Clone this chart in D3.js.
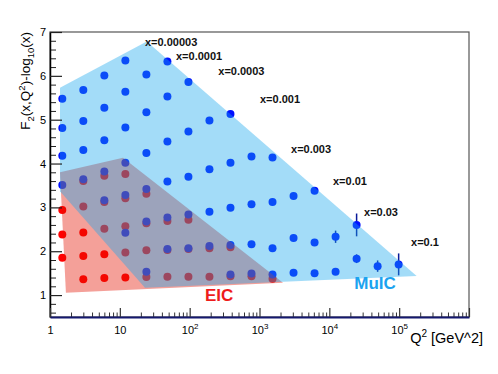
<!DOCTYPE html>
<html>
<head>
<meta charset="utf-8">
<script src="https://cdn.jsdelivr.net/npm/d3@7"></script>
<style>
  body { margin: 0; background: #fff; }
  svg { display: block; font-family: "Liberation Sans", Arial, Helvetica, sans-serif; }
</style>
</head>
<body>
<svg id="chart" width="498" height="374"></svg>
<script>
// MuIC pseudo-data, one array per x bin: [Q2, F2 - log10(x), error]
var muicX00003 = [[1.5,5.48,0],[3,5.68,0],[6,6.01,0],[12,6.35,0]];
var muicX0001  = [[1.5,4.81,0],[3,4.97,0],[6,5.27,0],[12,5.64,0],[24,6.03,0],[48,6.33,0]];
var muicX0003  = [[1.5,4.18,0],[3,4.31,0],[6,4.53,0],[12,4.82,0],[24,5.17,0],[48,5.53,0],[96,5.86,0]];
var muicX001   = [[1.5,3.51,0],[3,3.64,0],[6,3.82,0],[12,4.02,0],[24,4.24,0],[48,4.50,0],[96,4.73,0],[192,4.98,0],[384,5.13,0]];
var muicX003   = [[6,3.16,0],[12,3.28,0],[24,3.42,0],[48,3.59,0],[96,3.70,0],[192,3.87,0],[384,4.02,0],[768,4.16,0],[1536,4.14,0]];
var muicX01    = [[12,2.42,0],[24,2.68,0],[48,2.77,0],[96,2.84,0],[192,2.90,0],[384,2.99,0],[768,3.07,0],[1536,3.12,0],[3072,3.26,0],[6144,3.38,0]];
var muicX03    = [[48,2.05,0],[96,2.07,0],[192,2.12,0],[384,2.14,0],[768,2.16,0],[1536,2.07,0],[3072,2.30,0],[6144,2.20,0],[12288,2.33,0.14],[24576,2.60,0.26]];
var muicX1     = [[24,1.53,0],[384,1.47,0],[768,1.49,0],[1536,1.47,0],[3072,1.51,0],[6144,1.50,0],[12288,1.53,0],[24576,1.83,0.10],[49152,1.66,0.13],[98304,1.70,0.25]];

// EIC pseudo-data
var eicX001 = [[3,3.60],[6,3.72],[12,3.76]];
var eicX003 = [[1.5,2.94],[3,3.02],[6,3.12],[12,3.21],[24,3.31]];
var eicX01  = [[1.5,2.38],[3,2.43],[6,2.51],[12,2.57],[24,2.64],[48,2.69],[96,2.72]];
var eicX03  = [[1.5,1.85],[3,1.89],[6,1.93],[12,1.97],[24,2.02],[48,2.03],[96,2.05],[192,2.07],[384,2.09]];
var eicX1   = [[3,1.36],[6,1.39],[12,1.40],[24,1.41],[48,1.42],[96,1.42],[192,1.42],[384,1.43],[768,1.43],[1536,1.37]];

// kinematic coverage regions [Q2, y]
var eicRegion  = [[1.39,3.80],[11.1,4.13],[2172,1.283],[1.69,1.055]];
var muicRegion = [[1.39,5.73],[24.3,6.786],[178000,1.433],[22.9,1.169],[1.39,3.37]];

// series labels and where they sit (data coords)
var xLabels  = ["x=0.00003","x=0.0001","x=0.0003","x=0.001","x=0.003","x=0.01","x=0.03","x=0.1"];
var xLabelQ2 = [22.9, 63.7, 257, 1016, 2827, 11290, 31400, 147900];
var xLabelY  = [6.69, 6.353, 6.016, 5.385, 4.25, 3.506, 2.793, 2.125];

var xTicks = [1, 10, 100, 1000, 10000, 100000, 1000000];
var yTicks = [1, 2, 3, 4, 5, 6, 7];

var margin = {top: 32, right: 29, bottom: 57, left: 50},
    width = 498 - margin.left - margin.right,
    height = 374 - margin.top - margin.bottom;

var svg = d3.select("#chart");
var g = svg.append("g").attr("transform", "translate(" + margin.left + "," + margin.top + ")");

var x = d3.scaleLog().domain([1, 1e6]).range([0, width]);
var y = d3.scaleLinear().domain([0.5, 7]).range([height, 0]);

var muicAll = [muicX00003, muicX0001, muicX0003, muicX001, muicX003, muicX01, muicX03, muicX1];
var eicAll = [eicX001, eicX003, eicX01, eicX03, eicX1];

// points go first, the translucent regions are painted over them
eicAll.forEach(function(s) {
  g.selectAll(null).data(s).enter().append("circle")
    .attr("cx", function(d) { return x(d[0]); })
    .attr("cy", function(d) { return y(d[1]); })
    .attr("r", 4)
    .attr("fill", "#ff0000");
});

muicAll.forEach(function(s) {
  g.selectAll(null).data(s.filter(function(d) { return d[2] > 0; })).enter().append("line")
    .attr("x1", function(d) { return x(d[0]); })
    .attr("x2", function(d) { return x(d[0]); })
    .attr("y1", function(d) { return y(d[1] - d[2]); })
    .attr("y2", function(d) { return y(d[1] + d[2]); })
    .attr("stroke", "#0a1a9a")
    .attr("stroke-width", 1.5);
  g.selectAll(null).data(s).enter().append("circle")
    .attr("cx", function(d) { return x(d[0]); })
    .attr("cy", function(d) { return y(d[1]); })
    .attr("r", 4)
    .attr("fill", "#0010ff");
});

var area = d3.line().x(function(d) { return x(d[0]); }).y(function(d) { return y(d[1]); });

g.append("path")
  .attr("d", area(eicRegion) + "Z")
  .attr("fill", "rgb(227,17,0)")
  .attr("fill-opacity", 0.4);

g.append("path")
  .attr("d", area(muicRegion) + "Z")
  .attr("fill", "rgb(25,167,237)")
  .attr("fill-opacity", 0.4);

// x= labels
g.selectAll(null).data(xLabels).enter().append("text")
  .attr("x", function(d, i) { return x(xLabelQ2[i]); })
  .attr("y", function(d, i) { return y(xLabelY[i]); })
  .attr("font-size", 11)
  .attr("font-weight", "bold")
  .attr("fill", "#111")
  .text(function(d) { return d; });

g.append("text")
  .attr("x", x(165.8)).attr("y", y(0.863))
  .attr("font-size", 17).attr("font-weight", "bold")
  .attr("fill", "#ee1c1c")
  .text("EIC");

g.append("text")
  .attr("x", x(22800)).attr("y", y(1.146))
  .attr("font-size", 17).attr("font-weight", "bold")
  .attr("fill", "#1ba3f0")
  .text("MuIC");

// frame
g.append("rect")
  .attr("width", width).attr("height", height)
  .attr("fill", "none").attr("stroke", "#555").attr("stroke-width", 1.2);

// y axis
var yMinor = d3.range(0.6, 7.0001, 0.2).filter(function(v) { return Math.abs(v - Math.round(v)) > 0.01; });
g.append("g")
  .call(d3.axisLeft(y).tickValues(yMinor).tickSize(-6).tickFormat(""))
  .call(function(a) { a.select(".domain").remove(); });
var yAx = g.append("g")
  .call(d3.axisLeft(y).tickValues(yTicks).tickSizeInner(-12).tickSizeOuter(0).tickPadding(4).tickFormat(d3.format("d")));
yAx.select(".domain").attr("stroke", "#000").attr("stroke-width", 1.5);
yAx.selectAll("text").attr("font-size", 11).attr("font-family", "Liberation Sans, Arial, sans-serif");
yAx.selectAll("line").attr("stroke-width", 1.2);
g.selectAll("line").filter(function() { return this.parentNode.classList.contains("tick"); }).attr("stroke", "#222");

// x axis
var xMinor = [];
for (var e = 0; e < 6; e++) for (var m = 2; m <= 9; m++) xMinor.push(m * Math.pow(10, e));
g.append("g").attr("transform", "translate(0," + height + ")")
  .call(d3.axisBottom(x).tickValues(xMinor).tickSize(-4.5).tickFormat(""))
  .call(function(a) { a.select(".domain").remove(); a.selectAll("line").attr("stroke", "#333"); });
var xAx = g.append("g").attr("transform", "translate(0," + height + ")")
  .call(d3.axisBottom(x).tickValues(xTicks).tickSizeInner(-9).tickSizeOuter(0).tickPadding(9).tickFormat(""));
xAx.select(".domain").attr("stroke", "#14186e").attr("stroke-width", 2);
xAx.selectAll("line").attr("stroke", "#333").attr("stroke-width", 1.2);
xAx.selectAll(".tick text").each(function(d) {
  var ex = Math.round(Math.log10(d));
  var t = d3.select(this).attr("font-size", 11).attr("fill", "#000");
  if (ex >= 6) return;
  if (ex < 2) { t.text(d); return; }
  t.append("tspan").text("10");
  t.append("tspan").attr("dy", -5).attr("font-size", 8).text(ex);
});

// axis titles
var yt = svg.append("text")
  .attr("transform", "translate(30," + margin.top + ") rotate(-90)")
  .attr("text-anchor", "end")
  .attr("font-size", 13.5)
  .attr("fill", "#000");
yt.append("tspan").text("F");
yt.append("tspan").attr("font-size", 9.5).attr("dy", 3.5).text("2");
yt.append("tspan").attr("dy", -3.5).text("(x,Q");
yt.append("tspan").attr("font-size", 9.5).attr("dy", -5).text("2");
yt.append("tspan").attr("dy", 5).text(")-log");
yt.append("tspan").attr("font-size", 9.5).attr("dy", 3.5).text("10");
yt.append("tspan").attr("dy", -3.5).text("(x)");

var xt = svg.append("text")
  .attr("x", 483).attr("y", 343)
  .attr("text-anchor", "end")
  .attr("font-size", 14.5)
  .attr("fill", "#000");
xt.append("tspan").text("Q");
xt.append("tspan").attr("font-size", 10).attr("dy", -6).text("2");
xt.append("tspan").attr("dy", 6).text(" [GeV^2]");
</script>
</body>
</html>
